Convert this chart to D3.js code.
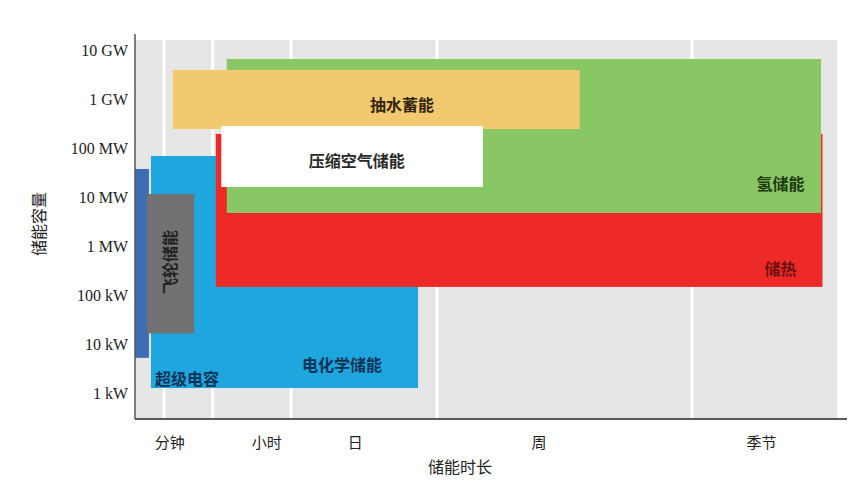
<!DOCTYPE html>
<html>
<head>
<meta charset="utf-8">
<script src="https://cdn.jsdelivr.net/npm/d3@7"></script>
<style>
  body { margin: 0; background: #fff; }
  text { font-family: "Noto Sans CJK SC", "Liberation Serif", serif; }
</style>
</head>
<body>
<div id="chart"></div>
<script>
  // duration categories (x axis), one segment per gridline band
  const categories = ["分钟", "小时", "日", "周", "季节"];
  const categoryPos = [1.12, 2.69, 3.44, 4.40, 5.48];   // label position, in segment units
  const gridPos = [1, 2, 3, 4, 5];

  // power ticks in kW
  const powerTicks = [1, 10, 100, 1e3, 1e4, 1e5, 1e6, 1e7];
  const powerLabels = ["1 kW", "10 kW", "100 kW", "1 MW", "10 MW", "100 MW", "1 GW", "10 GW"];

  // technologies, in drawing order (later ones sit on top)
  const techNames = ["", "电化学储能", "飞轮储能", "储热", "氢储能", "抽水蓄能", "压缩空气储能"];
  const durFrom  = [0.00, 0.55, 0.41, 2.04, 2.18, 1.18, 2.11];
  const durTo    = [0.48, 3.87, 1.62, 5.90, 5.89, 4.56, 4.18];
  const powerMin = [5.3, 1.28, 16.7, 149, 4830, 2.51e5, 1.64e4];
  const powerMax = [3.83e4, 7.06e4, 1.18e4, 1.99e5, 6.78e6, 4.04e6, 2.90e5];
  const techColors = ["#3e6db5", "#1fa6de", "#727172", "#ed2a27", "#89c664", "#f2c970", "#ffffff"];

  // label anchors (duration units, kW)
  const labelText  = ["抽水蓄能", "压缩空气储能", "氢储能", "储热", "电化学储能", "超级电容", "飞轮储能"];
  const labelDur   = [3.76, 3.45, 5.61, 5.61, 3.35, 1.47, 1.10];
  const labelPower = [8.15e5, 5.85e4, 1.98e4, 363, 3.97, 2.05, 482];
  const labelColor = ["#33260c", "#2a2a2a", "#1d3a12", "#6e1010", "#0d3455", "#0d3455", "#222222"];
  const labelRotate = [0, 0, 0, 0, 0, 0, -90];

  const width = 867;
  const height = 487;

  const svg = d3.select("#chart")
    .append("svg")
    .attr("width", width)
    .attr("height", height);

  // piecewise band scale: each duration class gets its own stretch
  const x = d3.scaleLinear()
    .domain([0, 1, 2, 3, 4, 5, 6])
    .range([135, 164, 212.7, 291, 437, 692, 837]);

  const y = d3.scaleLog()
    .domain([1, 1e7])
    .range([393.3, 50.7]);

  const plotTop = 40, plotBottom = 418;

  // grey plot background
  svg.append("rect")
    .attr("x", x(0))
    .attr("y", plotTop)
    .attr("width", x(6) - x(0))
    .attr("height", plotBottom - plotTop)
    .attr("fill", "#e7e6e7");

  // white separators between duration classes
  svg.append("g")
    .selectAll("line")
    .data(gridPos)
    .join("line")
    .attr("x1", d => x(d))
    .attr("x2", d => x(d))
    .attr("y1", plotTop)
    .attr("y2", plotBottom)
    .attr("stroke", "#fff")
    .attr("stroke-width", 3);

  const techs = techNames.map((n, i) => ({
    name: n, x0: durFrom[i], x1: durTo[i], p0: powerMin[i], p1: powerMax[i], color: techColors[i]
  }));

  svg.append("g")
    .selectAll("rect")
    .data(techs)
    .join("rect")
    .attr("x", d => x(d.x0))
    .attr("y", d => y(d.p1))
    .attr("width", d => x(d.x1) - x(d.x0))
    .attr("height", d => y(d.p0) - y(d.p1))
    .attr("fill", d => d.color);

  const labels = labelText.map((t, i) => ({
    text: t, x: labelDur[i], p: labelPower[i], color: labelColor[i], rot: labelRotate[i]
  }));

  svg.append("g")
    .selectAll("text")
    .data(labels)
    .join("text")
    .attr("transform", d => `translate(${x(d.x)},${y(d.p)}) rotate(${d.rot})`)
    .attr("text-anchor", "middle")
    .attr("dominant-baseline", "central")
    .style("font-size", "16px")
    .style("font-weight", "bold")
    .attr("fill", d => d.color)
    .text(d => d.text);

  // axes
  const yAxis = svg.append("g")
    .attr("transform", `translate(${x(0)},0)`)
    .call(d3.axisLeft(y).tickValues(powerTicks).tickFormat((d, i) => powerLabels[i]).tickSize(0).tickPadding(7));
  yAxis.select(".domain").remove();
  yAxis.selectAll("text")
    .style("font-family", "'Liberation Serif', serif")
    .style("font-size", "16px")
    .attr("fill", "#222");

  svg.append("line")
    .attr("x1", x(0)).attr("x2", x(0))
    .attr("y1", 34).attr("y2", plotBottom + 1)
    .attr("stroke", "#555")
    .attr("stroke-width", 1.5);

  svg.append("line")
    .attr("x1", x(0)).attr("x2", 847)
    .attr("y1", plotBottom + 1).attr("y2", plotBottom + 1)
    .attr("stroke", "#222")
    .attr("stroke-width", 1.3);

  svg.append("g")
    .selectAll("text")
    .data(categories)
    .join("text")
    .attr("x", (d, i) => x(categoryPos[i]))
    .attr("y", 441)
    .attr("text-anchor", "middle")
    .attr("dominant-baseline", "central")
    .style("font-size", "15px")
    .attr("fill", "#222")
    .text(d => d);

  svg.append("text")
    .attr("x", 460)
    .attr("y", 466)
    .attr("text-anchor", "middle")
    .attr("dominant-baseline", "central")
    .style("font-size", "16px")
    .attr("fill", "#222")
    .text("储能时长");

  svg.append("text")
    .attr("transform", "translate(38,224) rotate(-90)")
    .attr("text-anchor", "middle")
    .attr("dominant-baseline", "central")
    .style("font-size", "16px")
    .attr("fill", "#222")
    .text("储能容量");
</script>
</body>
</html>
